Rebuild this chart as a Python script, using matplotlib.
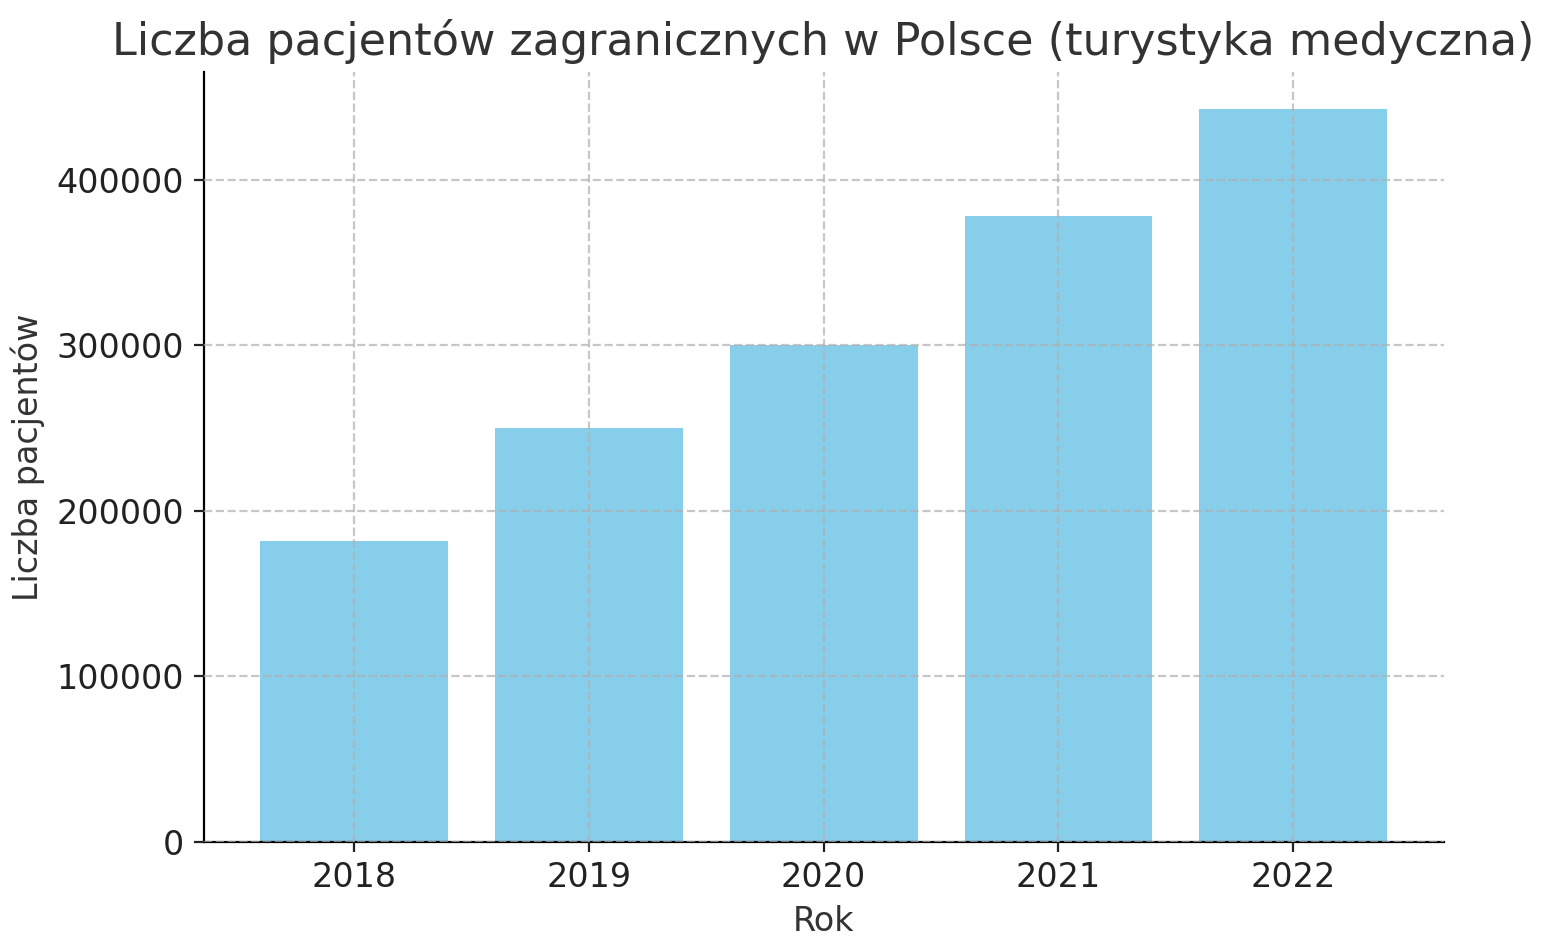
import matplotlib.pyplot as plt

years = ["2018", "2019", "2020", "2021", "2022"]
patients = [182000, 250000, 300000, 378000, 443000]

fig, ax = plt.subplots(figsize=(7.77, 4.745), dpi=200)
fig.subplots_adjust(left=0.131, right=0.929, top=0.924, bottom=0.113)
ax.bar(years, patients, color="skyblue", zorder=1)
ax.set_title("Liczba pacjentów zagranicznych w Polsce (turystyka medyczna)", fontsize=16, color="#333333")
ax.set_xlabel("Rok", fontsize=12, color="#333333")
ax.set_ylabel("Liczba pacjentów", fontsize=12, color="#333333")
ax.tick_params(labelsize=12, colors="#222222")
ax.grid(True, linestyle="--", alpha=0.7, zorder=3)
ax.set_axisbelow(False)
ax.spines["top"].set_visible(False)
ax.spines["right"].set_visible(False)
plt.savefig("out.png", dpi=200)
